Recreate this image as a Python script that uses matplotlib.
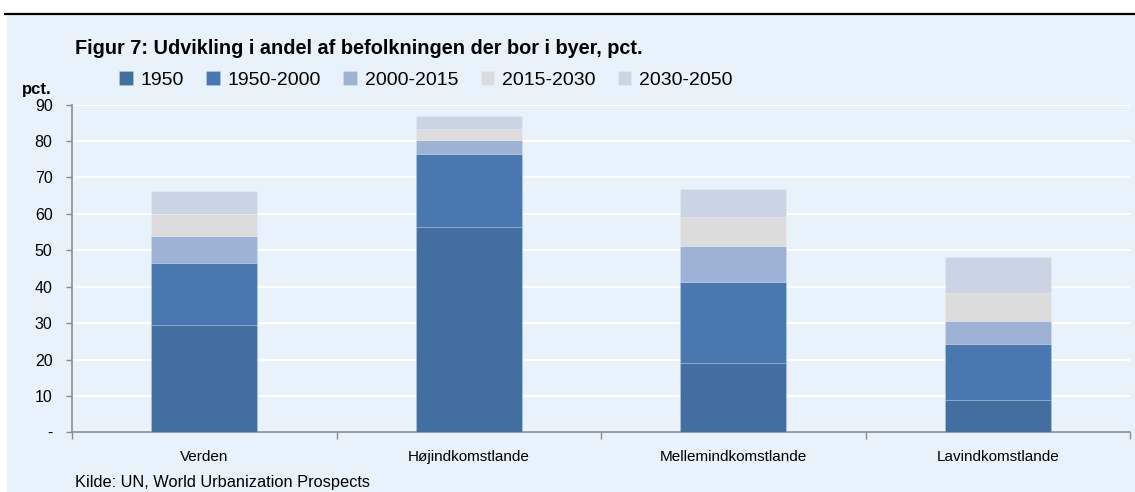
import matplotlib
matplotlib.use("Agg")
import matplotlib.pyplot as plt
from matplotlib import font_manager
from matplotlib.patches import Rectangle
from matplotlib.lines import Line2D
import numpy as np

categories = ["Verden", "Højindkomstlande", "Mellemindkomstlande", "Lavindkomstlande"]
series_names = ["1950", "1950-2000", "2000-2015", "2015-2030", "2030-2050"]
s1950 = [29.5, 56.5, 19.0, 8.8]
s1950_2000 = [17.0, 20.0, 22.3, 15.5]
s2000_2015 = [7.4, 3.9, 9.9, 6.3]
s2015_2030 = [6.2, 2.9, 7.9, 7.6]
s2030_2050 = [6.2, 3.5, 7.7, 9.9]
yticks = [0, 10, 20, 30, 40, 50, 60, 70, 80, 90]
ytick_labels = ["-", "10", "20", "30", "40", "50", "60", "70", "80", "90"]

colors = ["#436FA0", "#4878AF", "#9DB2D4", "#DCDCDC", "#CAD4E5"]
bg = "#E8F2FA"

names = {f.name for f in font_manager.fontManager.ttflist}
narrow = "Liberation Sans Narrow" if "Liberation Sans Narrow" in names else "Liberation Sans"
plt.rcParams["font.family"] = [narrow, "DejaVu Sans"]

fig = plt.figure(figsize=(11.35, 4.92), dpi=100)
fig.patch.set_facecolor("white")
fig.patches.append(Rectangle((7/1135, 0), 1, (492-15)/492, transform=fig.transFigure,
                             facecolor=bg, edgecolor="none", zorder=-10))
fig.lines.append(Line2D([5/1135, 1], [1-13.5/492, 1-13.5/492], transform=fig.transFigure,
                        color="black", lw=1.6))

ax = fig.add_axes([72/1135, 1-432.3/492, (1130-72)/1135, (432.3-104.7)/492])
ax.set_facecolor(bg)

x = np.arange(len(categories))
bottom = np.zeros(len(categories))
handles = []
for name, vals, c in zip(series_names, [s1950, s1950_2000, s2000_2015, s2015_2030, s2030_2050], colors):
    b = ax.bar(x, vals, width=0.4, bottom=bottom, color=c, edgecolor=(1, 1, 1, 0.18),
               linewidth=0.6, label=name, zorder=3)
    handles.append(b)
    bottom += np.array(vals)

ax.set_xlim(-0.5, 3.5)
ax.set_ylim(0, 90)
ax.set_yticks(yticks)
ax.set_yticklabels(ytick_labels)
ax.yaxis.grid(True, color="white", lw=1.6, zorder=0)
ax.set_axisbelow(True)

ax.set_xticks(np.arange(-0.5, 4.0, 1.0))
ax.set_xticklabels([])
ax.set_xticks(x, minor=True)
ax.set_xticklabels(categories, minor=True)
ax.tick_params(axis="x", which="major", length=5, width=1, color="#8C8C8C", direction="out")
ax.tick_params(axis="x", which="minor", length=0, pad=13, labelsize=11)
ax.tick_params(axis="y", length=4, width=1, color="#8C8C8C", direction="out", pad=10, labelsize=11.5)

for s in ["top", "right"]:
    ax.spines[s].set_visible(False)
for s in ["left", "bottom"]:
    ax.spines[s].set_color("#8C8C8C")
    ax.spines[s].set_linewidth(1.2)

fig.text(75/1135, 1-49/492, "Figur 7: Udvikling i andel af befolkningen der bor i byer, pct.",
         fontsize=14.3, fontweight="bold", va="center", ha="left")
fig.text(22/1135, 1-90/492, "pct.", fontsize=12, fontweight="bold", va="center", ha="left")
fig.text(75/1135, 1-482/492, "Kilde: UN, World Urbanization Prospects", fontsize=11.8,
         va="center", ha="left")

leg = fig.legend(handles=handles, labels=series_names, loc="center left",
                 bbox_to_anchor=(119/1135, 1-80/492), ncol=5, frameon=False,
                 fontsize=14, handlelength=0.7, handleheight=0.7, handletextpad=0.4,
                 columnspacing=1.15, borderpad=0, borderaxespad=0)

fig.savefig("out.png", dpi=100, facecolor=fig.get_facecolor())
